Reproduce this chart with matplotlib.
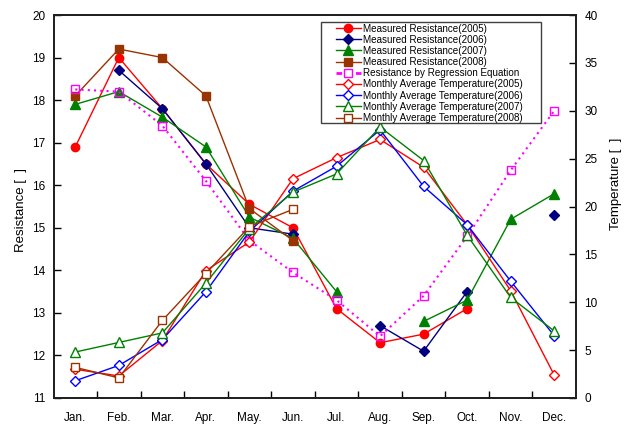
import numpy as np
import matplotlib
matplotlib.use("Agg")
from matplotlib import pyplot as plt
from matplotlib.patches import Rectangle
from matplotlib.lines import Line2D

plt.rcParams['font.family'] = ['Liberation Sans', 'DejaVu Sans']

months = ['Jan.', 'Feb.', 'Mar.', 'Apr.', 'May.', 'Jun.',
          'Jul.', 'Aug.', 'Sep.', 'Oct.', 'Nov.', 'Dec.']
nan = np.nan

# 实测电阻（左轴）
res_2005 = [16.9, 19.0, 17.8, 16.5, 15.55, 15.0, 13.1, 12.3, 12.5, 13.1, nan, nan]
res_2006 = [nan, 18.7, 17.8, 16.5, 15.0, 14.85, nan, 12.7, 12.1, 13.5, nan, 15.3]
res_2007 = [17.9, 18.2, 17.6, 16.9, 15.25, 14.75, 13.5, nan, 12.8, 13.3, 15.2, 15.8]
res_2008 = [18.1, 19.2, 19.0, 18.1, 15.45, 14.7, nan, nan, nan, nan, nan, nan]
res_regression = [18.25, 18.2, 17.4, 16.1, 14.7, 13.95, 13.3, 12.45, 13.4, 14.8, 16.35, 17.75]

# 月平均气温（右轴）
temp_2005 = [3.0, 2.3, 6.0, 13.3, 16.3, 22.9, 25.1, 27.0, 24.1, 18.1, 11.2, 2.4]
temp_2006 = [1.8, 3.4, 6.1, 11.1, 17.4, 21.6, 24.2, 28.0, 22.1, 18.1, 12.2, 6.5]
temp_2007 = [4.8, 5.8, 6.8, 12.0, 17.7, 21.5, 23.4, 28.3, 24.8, 17.0, 10.5, 7.0]
temp_2008 = [3.2, 2.1, 8.1, 13.0, 17.9, 19.7, nan, nan, nan, nan, nan, nan]

x = np.arange(len(months))

W, H = 630, 425
fig = plt.figure(figsize=(W / 100, H / 100), dpi=100)
ax = fig.add_axes([53.5 / W, 1 - 398 / H, (576 - 53.5) / W, (398 - 15) / H])
ax2 = ax.twinx()

lw = 1.0
h1, = ax.plot(x, res_2005, color='#ff0000', lw=lw, marker='o', ms=6, label='Measured Resistance(2005)')
h2, = ax.plot(x, res_2006, color='#000080', lw=lw, marker='D', ms=5, label='Measured Resistance(2006)')
h3, = ax.plot(x, res_2007, color='#008000', lw=lw, marker='^', ms=6.5, label='Measured Resistance(2007)')
h4, = ax.plot(x, res_2008, color='#993300', lw=lw, marker='s', ms=6, label='Measured Resistance(2008)')
ax.plot(x, res_regression, color='#ff00ff', lw=1.5, ls=(0, (1, 2)), marker='s', ms=6,
        mfc='none', mec='#ff00ff', mew=1.0)
# 图例里回归线用粗虚线表示
h5 = Line2D([], [], color='#ff00ff', lw=2.0, ls=(0, (2, 1.5)), marker='s', ms=5.5,
            mfc='white', mec='#ff00ff', mew=1.0, label='Resistance by Regression Equation')

h6, = ax2.plot(x, temp_2005, color='#ff0000', lw=lw, marker='D', ms=5, mfc='white', mew=1.0,
               label='Monthly Average Temperature(2005)')
h7, = ax2.plot(x, temp_2006, color='#0000ff', lw=lw, marker='D', ms=5, mfc='white', mew=1.0,
               label='Monthly Average Temperature(2006)')
h8, = ax2.plot(x, temp_2007, color='#008000', lw=lw, marker='^', ms=6.5, mfc='white', mew=1.0,
               label='Monthly Average Temperature(2007)')
h9, = ax2.plot(x, temp_2008, color='#993300', lw=lw, marker='s', ms=6, mfc='white', mew=1.0,
               label='Monthly Average Temperature(2008)')

ax.set_xlim(-0.5, len(months) - 0.5)
ax.set_ylim(11, 20)
ax2.set_ylim(0, 40)
ax.set_yticks(np.arange(11, 21, 1))
ax2.set_yticks(np.arange(0, 41, 5))

# 类别刻度：标签居中，刻度线放在类别之间
ax.set_xticks(x)
ax.set_xticklabels(months)
ax.set_xticks(np.arange(0.5, len(months) - 0.5, 1), minor=True)
ax.tick_params(axis='x', which='major', length=0, pad=10, labelsize=8.5)
ax.tick_params(axis='x', which='minor', direction='in', length=5, width=1.0)
ax.tick_params(axis='y', direction='in', length=5, width=1.0, labelsize=8.5, pad=6)
ax2.tick_params(axis='y', direction='in', length=5, width=1.0, labelsize=8.5, pad=6)

for a in (ax, ax2):
    for s in a.spines.values():
        s.set_linewidth(1.3)
        s.set_color('#202020')

ax.set_ylabel('Resistance [  ]', fontsize=9.5)
ax2.set_ylabel('Temperature [  ]', fontsize=9.5)
ax.yaxis.set_label_coords(-0.05, 0.49)
ax2.yaxis.set_label_coords(1.065, 0.56)

# 图例外框单独画，左右留白比上下宽
box = Rectangle((320.7 / W, 1 - 123.3 / H), 220 / W, 101.6 / H, transform=fig.transFigure,
                facecolor='white', edgecolor='#404040', lw=1.0, zorder=4)
ax2.add_patch(box)

handles = [h1, h2, h3, h4, h5, h6, h7, h8, h9]
leg = ax2.legend(handles=handles, loc='upper left',
                 bbox_to_anchor=(336 / W, 1 - 23.5 / H), bbox_transform=fig.transFigure,
                 fontsize=7.1, handlelength=2.5, handletextpad=0.27, labelspacing=0.12,
                 borderpad=0, borderaxespad=0, frameon=False)
leg.set_zorder(5)

fig.savefig('out.png', dpi=100, facecolor='white')
plt.close(fig)
